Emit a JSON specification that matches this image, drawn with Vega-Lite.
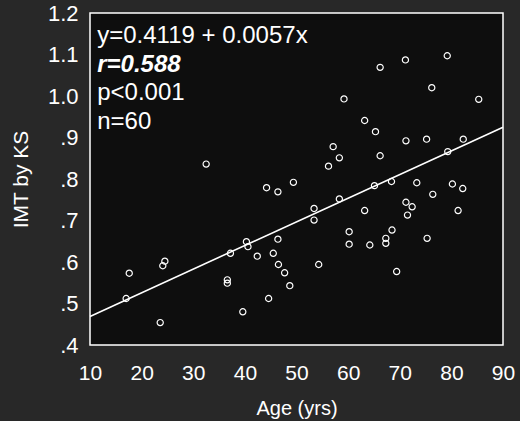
{
  "$schema": "https://vega.github.io/schema/vega-lite/v6.json",
  "autosize": {"type": "none"},
  "width": 413,
  "height": 332,
  "padding": {"left": 90, "top": 13, "right": 17, "bottom": 76},
  "background": "#282828",
  "config": {
    "view": {"fill": "#0e0e0e", "stroke": "#ffffff", "strokeWidth": 1.5},
    "font": "Liberation Sans",
    "axis": {"grid": false, "ticks": false, "domain": false, "labelColor": "#ffffff", "titleColor": "#ffffff", "titleFontWeight": "normal", "labelFont": "Liberation Sans", "titleFont": "Liberation Sans"}
  },
  "datasets": {
    "pts": [
      {"age": 17.6, "imt": 0.573}, {"age": 17.0, "imt": 0.512}, {"age": 23.6, "imt": 0.454},
      {"age": 24.5, "imt": 0.602}, {"age": 24.1, "imt": 0.591}, {"age": 32.5, "imt": 0.836},
      {"age": 36.6, "imt": 0.557}, {"age": 36.6, "imt": 0.549}, {"age": 37.2, "imt": 0.621},
      {"age": 39.6, "imt": 0.480}, {"age": 40.3, "imt": 0.649}, {"age": 40.6, "imt": 0.637},
      {"age": 42.4, "imt": 0.614}, {"age": 44.2, "imt": 0.779}, {"age": 46.4, "imt": 0.769},
      {"age": 44.6, "imt": 0.512}, {"age": 45.5, "imt": 0.621}, {"age": 46.4, "imt": 0.655},
      {"age": 46.5, "imt": 0.594}, {"age": 47.7, "imt": 0.574}, {"age": 48.7, "imt": 0.543},
      {"age": 49.4, "imt": 0.792}, {"age": 53.4, "imt": 0.729}, {"age": 53.4, "imt": 0.701},
      {"age": 54.3, "imt": 0.594}, {"age": 56.2, "imt": 0.831}, {"age": 57.1, "imt": 0.878},
      {"age": 58.3, "imt": 0.851}, {"age": 58.3, "imt": 0.752}, {"age": 59.2, "imt": 0.993},
      {"age": 60.2, "imt": 0.673}, {"age": 60.2, "imt": 0.643}, {"age": 63.2, "imt": 0.724},
      {"age": 63.2, "imt": 0.941}, {"age": 64.2, "imt": 0.641}, {"age": 65.3, "imt": 0.914},
      {"age": 65.1, "imt": 0.784}, {"age": 66.2, "imt": 0.856}, {"age": 66.2, "imt": 1.069},
      {"age": 67.3, "imt": 0.657}, {"age": 67.3, "imt": 0.645}, {"age": 68.5, "imt": 0.677},
      {"age": 68.4, "imt": 0.794}, {"age": 69.4, "imt": 0.577}, {"age": 71.1, "imt": 1.087},
      {"age": 71.2, "imt": 0.892}, {"age": 71.2, "imt": 0.744}, {"age": 71.5, "imt": 0.713},
      {"age": 72.4, "imt": 0.733}, {"age": 73.3, "imt": 0.791}, {"age": 75.2, "imt": 0.896},
      {"age": 75.3, "imt": 0.657}, {"age": 76.2, "imt": 1.020}, {"age": 76.4, "imt": 0.763},
      {"age": 79.2, "imt": 1.097}, {"age": 79.3, "imt": 0.866}, {"age": 80.2, "imt": 0.788},
      {"age": 81.3, "imt": 0.724}, {"age": 82.2, "imt": 0.777}, {"age": 82.3, "imt": 0.896},
      {"age": 85.3, "imt": 0.992}
    ],
    "fit": [
      {"age": 10, "imt": 0.4689},
      {"age": 90, "imt": 0.9249}
    ],
    "notes": [
      {"age": 11.4, "imt": 1.1277, "label": "y=0.4119 + 0.0057x"},
      {"age": 11.4, "imt": 0.9904, "label": "p<0.001"},
      {"age": 11.4, "imt": 0.9205, "label": "n=60"}
    ],
    "rnote": [
      {"age": 11.4, "imt": 1.0578, "label": "r=0.588"}
    ]
  },
  "encoding": {
    "x": {"field": "age", "type": "quantitative", "scale": {"domain": [10, 90], "nice": false, "zero": false},
      "axis": {"values": [10, 20, 30, 40, 50, 60, 70, 80, 90], "title": "Age (yrs)", "labelFontSize": 21, "labelPadding": 17, "titleFontSize": 20, "titlePadding": 15, "labelFlush": false}},
    "y": {"field": "imt", "type": "quantitative", "scale": {"domain": [0.4, 1.2], "nice": false, "zero": false},
      "axis": {"values": [0.4, 0.5, 0.6, 0.7, 0.8, 0.9, 1.0, 1.1, 1.2], "title": "IMT by KS", "labelFontSize": 22, "labelPadding": 12, "titleFontSize": 21, "titlePadding": 16, "labelFlush": false,
        "labelExpr": "datum.value >= 0.99 ? format(datum.value, '.1f') : '.' + format(round(datum.value * 10), 'd')"}}
  },
  "layer": [
    {"data": {"name": "pts"}, "mark": {"type": "point", "shape": "circle", "filled": false, "color": "#ffffff", "strokeWidth": 1.2, "size": 38, "opacity": 1}},
    {"data": {"name": "fit"}, "mark": {"type": "line", "color": "#ffffff", "strokeWidth": 1.6}},
    {"data": {"name": "notes"}, "mark": {"type": "text", "align": "left", "baseline": "alphabetic", "color": "#ffffff", "fontSize": 24},
      "encoding": {"text": {"field": "label"}}},
    {"data": {"name": "rnote"}, "mark": {"type": "text", "align": "left", "baseline": "alphabetic", "color": "#ffffff", "fontSize": 24, "fontWeight": "bold", "fontStyle": "italic"},
      "encoding": {"text": {"field": "label"}}}
  ]
}
